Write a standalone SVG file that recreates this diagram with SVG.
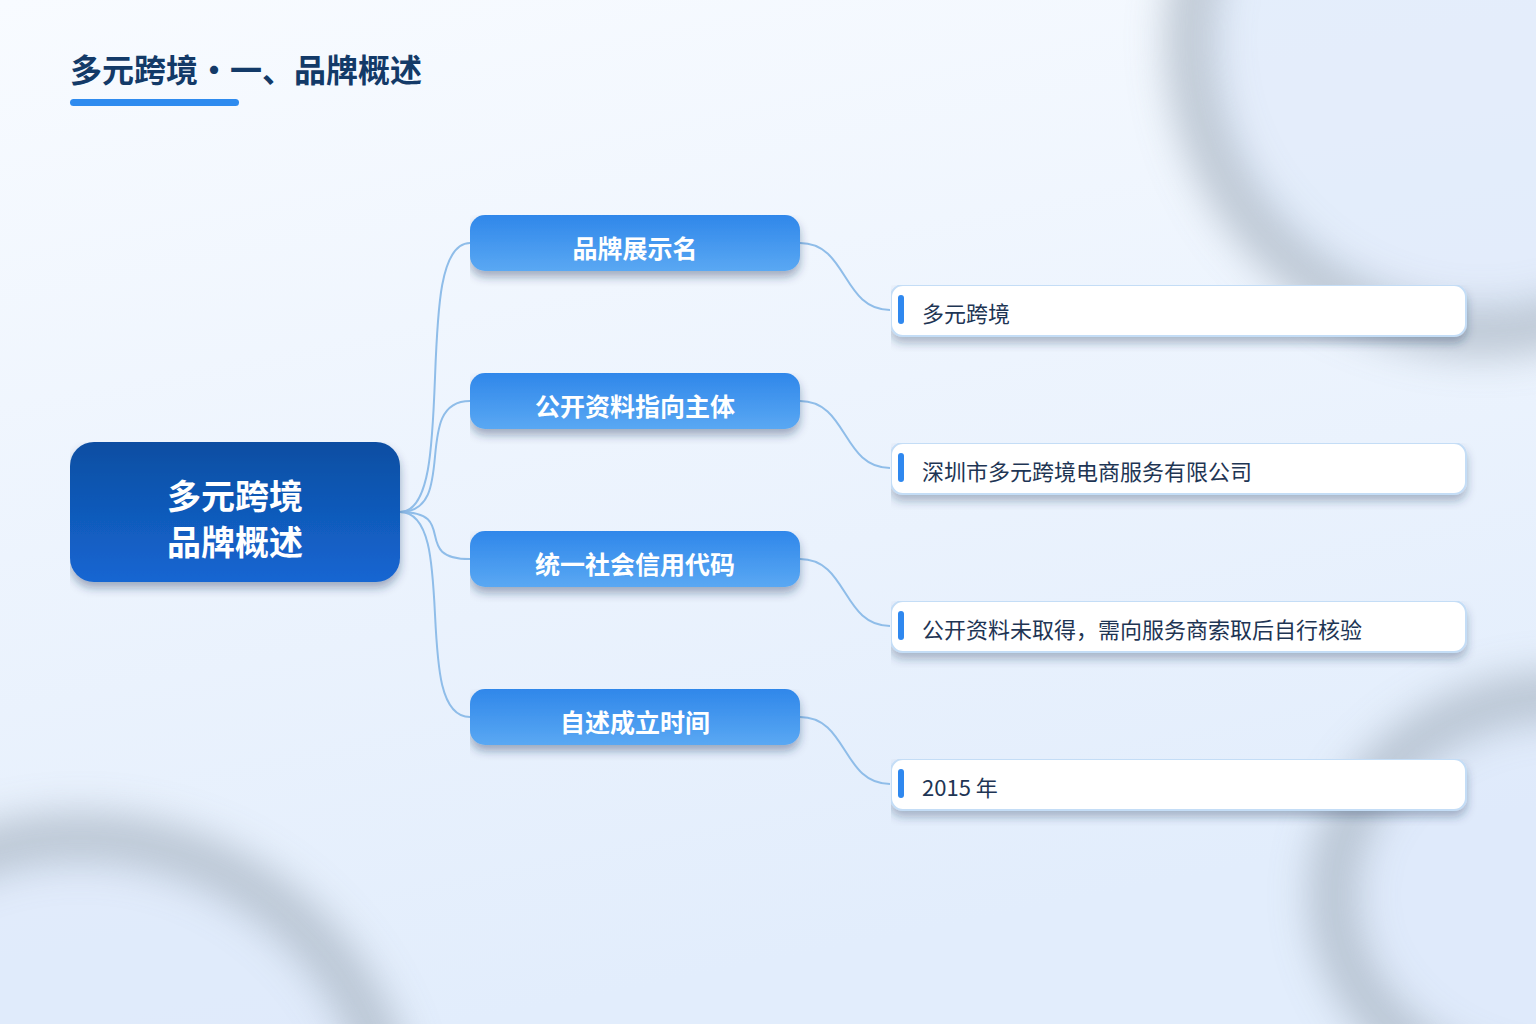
<svg xmlns="http://www.w3.org/2000/svg" width="1536" height="1024" viewBox="0 0 1536 1024">
  <defs>
    <linearGradient id="bg" x1="0" y1="0" x2="0.3" y2="1">
      <stop offset="0" stop-color="#f8fbff"/>
      <stop offset="1" stop-color="#e2edfc"/>
    </linearGradient>
    <linearGradient id="rootFill" x1="0" y1="0" x2="0" y2="1">
      <stop offset="0" stop-color="#0c4ea2"/>
      <stop offset="1" stop-color="#1566d2"/>
    </linearGradient>
    <linearGradient id="subFill" x1="0" y1="0" x2="0" y2="1">
      <stop offset="0" stop-color="#2f87ea"/>
      <stop offset="1" stop-color="#5aa8f3"/>
    </linearGradient>
    <filter id="ringBlur" x="-50%" y="-50%" width="200%" height="200%">
      <feGaussianBlur stdDeviation="20"/>
    </filter>
    <filter id="fillBlur" x="-50%" y="-50%" width="200%" height="200%">
      <feGaussianBlur stdDeviation="10"/>
    </filter>
    <filter id="shadow" x="0" y="0" width="1.03" height="1.28">
      <feDropShadow dx="0" dy="6" stdDeviation="5" flood-color="#1b3358" flood-opacity="0.38"/>
    </filter>
    <filter id="shadowLeaf" x="0" y="0" width="1.018" height="1.3">
      <feDropShadow dx="0" dy="6" stdDeviation="5" flood-color="#1b3358" flood-opacity="0.32"/>
    </filter>
  </defs>
  <style>
    .title { font-family: "Noto Sans CJK SC", "Noto Sans", sans-serif; font-weight: 700; font-size: 32px; fill: #133a68; }
    .rootText { font-family: "Noto Sans CJK SC", "Noto Sans", sans-serif; font-weight: 700; font-size: 34px; fill: #ffffff; text-anchor: middle; }
    .subText { font-family: "Noto Sans CJK SC", "Noto Sans", sans-serif; font-weight: 700; font-size: 25px; fill: #ffffff; text-anchor: middle; }
    .leafText { font-family: "Noto Sans CJK SC", "Noto Sans", sans-serif; font-weight: 400; font-size: 22px; fill: #1e3554; }
    .sub { fill: url(#subFill); filter: url(#shadow); }
    .leaf { fill: #ffffff; stroke: #c4ddf6; stroke-width: 2; filter: url(#shadowLeaf); }
    .bar { fill: #2f88ef; }
    .link { fill: none; stroke: #8fbde9; stroke-width: 2; }
    .ring { fill: none; stroke: #a9b5c3; stroke-width: 44; filter: url(#ringBlur); opacity: 0.8; }
    .ringFill { fill: #dfeafb; opacity: 0.7; filter: url(#fillBlur); }
  </style>

  <rect width="1536" height="1024" fill="url(#bg)"/>
  <g id="decor">
    <circle class="ringFill" cx="1482" cy="40" r="280"/>
    <circle class="ring" cx="1482" cy="40" r="292"/>
    <circle class="ringFill" cx="80" cy="1155" r="305"/>
    <circle class="ring" cx="80" cy="1155" r="318"/>
    <ellipse class="ringFill" cx="1565" cy="895" rx="220" ry="188"/>
    <ellipse class="ring" cx="1565" cy="895" rx="232" ry="200"/>
  </g>

  <g id="title">
    <text class="title" x="70" y="82">多元跨境・一、品牌概述</text>
    <rect x="70" y="99" width="169" height="7" rx="3.5" fill="#2e8bef"/>
  </g>

  <g id="connectors">
    <path class="link" d="M400,512 C460,512 410,243 470,243"/>
    <path class="link" d="M400,512 C460,512 410,401 470,401"/>
    <path class="link" d="M400,512 C460,512 410,559 470,559"/>
    <path class="link" d="M400,512 C460,512 410,717 470,717"/>
    <path class="link" d="M800,243 C848,243 842,310 890,310"/>
    <path class="link" d="M800,401 C848,401 842,468 890,468"/>
    <path class="link" d="M800,559 C848,559 842,626 890,626"/>
    <path class="link" d="M800,717 C848,717 842,784 890,784"/>
  </g>

  <g id="root">
    <rect x="70" y="442" width="330" height="140" rx="24" fill="url(#rootFill)" filter="url(#shadow)"/>
    <text class="rootText" x="235" y="509">多元跨境</text>
    <text class="rootText" x="235" y="555">品牌概述</text>
  </g>

  <g id="sub1">
    <rect class="sub" x="470" y="215" width="330" height="56" rx="15"/>
    <text class="subText" x="635" y="258">品牌展示名</text>
  </g>
  <g id="sub2">
    <rect class="sub" x="470" y="373" width="330" height="56" rx="15"/>
    <text class="subText" x="635" y="416">公开资料指向主体</text>
  </g>
  <g id="sub3">
    <rect class="sub" x="470" y="531" width="330" height="56" rx="15"/>
    <text class="subText" x="635" y="574">统一社会信用代码</text>
  </g>
  <g id="sub4">
    <rect class="sub" x="470" y="689" width="330" height="56" rx="15"/>
    <text class="subText" x="635" y="732">自述成立时间</text>
  </g>

  <g id="leaf1">
    <rect class="leaf" x="891" y="285" width="575" height="51" rx="12"/>
    <rect class="bar" x="898" y="295" width="6" height="29" rx="3"/>
    <text class="leafText" x="922" y="322">多元跨境</text>
  </g>
  <g id="leaf2">
    <rect class="leaf" x="891" y="443" width="575" height="51" rx="12"/>
    <rect class="bar" x="898" y="453" width="6" height="29" rx="3"/>
    <text class="leafText" x="922" y="480">深圳市多元跨境电商服务有限公司</text>
  </g>
  <g id="leaf3">
    <rect class="leaf" x="891" y="601" width="575" height="51" rx="12"/>
    <rect class="bar" x="898" y="611" width="6" height="29" rx="3"/>
    <text class="leafText" x="922" y="638">公开资料未取得，需向服务商索取后自行核验</text>
  </g>
  <g id="leaf4">
    <rect class="leaf" x="891" y="759" width="575" height="51" rx="12"/>
    <rect class="bar" x="898" y="769" width="6" height="29" rx="3"/>
    <text class="leafText" x="922" y="796">2015 年</text>
  </g>
</svg>
